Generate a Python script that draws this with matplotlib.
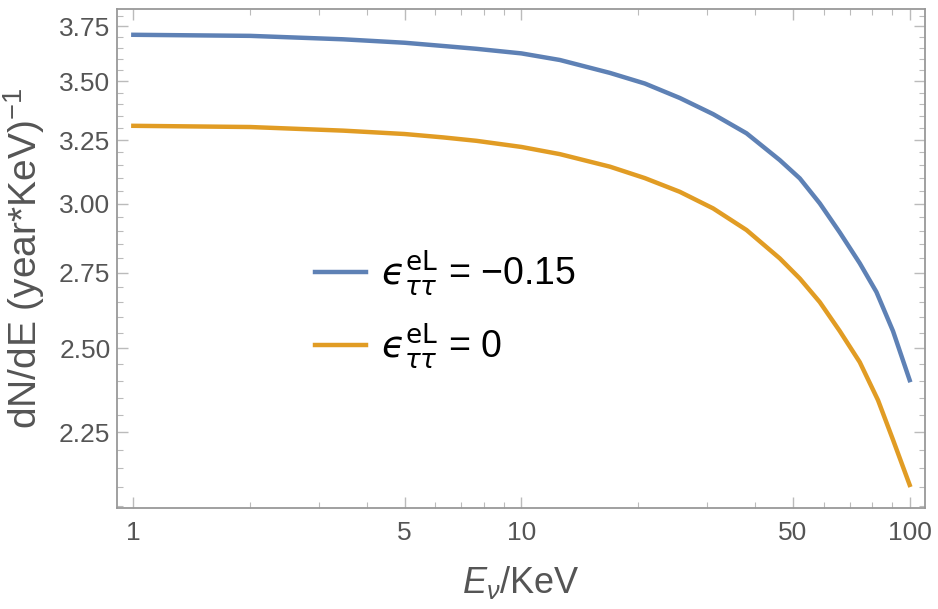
import numpy as np
import matplotlib
matplotlib.use("Agg")
import matplotlib.pyplot as plt
from matplotlib.ticker import FixedLocator, NullFormatter

plt.rcParams['font.family'] = ['Liberation Sans', 'DejaVu Sans']
plt.rcParams['mathtext.fontset'] = 'custom'
plt.rcParams['mathtext.rm'] = 'Liberation Sans'
plt.rcParams['mathtext.it'] = 'Liberation Sans:italic'
plt.rcParams['mathtext.bf'] = 'Liberation Sans:bold'

# values (E in KeV, dN/dE)
E_blue = [1, 2, 3.47, 5, 6.29, 7.66, 10, 12.56, 16.9, 20.79, 25.58, 31.17, 37.99,
          46.29, 52.12, 58.68, 66.07, 74.38, 82.11, 90.6, 100]
y_blue = [3.711, 3.706, 3.690, 3.674, 3.659, 3.646, 3.625, 3.595, 3.537, 3.490, 3.427,
          3.358, 3.278, 3.169, 3.097, 3.001, 2.893, 2.783, 2.684, 2.555, 2.402]

E_orange = [1, 2, 3.47, 5, 6.29, 7.66, 10, 12.56, 16.9, 20.79, 25.58, 31.17, 37.99,
            46.29, 52.12, 58.68, 66.07, 74.38, 82.89, 90.6, 100]
y_orange = [3.309, 3.304, 3.289, 3.275, 3.261, 3.247, 3.222, 3.193, 3.143, 3.098, 3.045,
            2.982, 2.902, 2.800, 2.730, 2.650, 2.555, 2.457, 2.342, 2.228, 2.105]

labels = ['$\u03f5_{\\tau\\tau}^{\\mathrm{eL}}$ = \u22120.15', '$\u03f5_{\\tau\\tau}^{\\mathrm{eL}}$ = 0']
colors = ['#5E81B5', '#E19C24']

xticks = [1, 5, 10, 50, 100]
yticks = [2.25, 2.5, 2.75, 3.0, 3.25, 3.5, 3.75]

fig = plt.figure(figsize=(9.38, 6.09), dpi=100)
ax = fig.add_axes([0.1251, 0.1654, 0.861, 0.8193])

ax.plot(E_blue, y_blue, color=colors[0], lw=3.2, label=labels[0])
ax.plot(E_orange, y_orange, color=colors[1], lw=3.2, label=labels[1])

ax.set_xscale('log')
ax.set_yscale('log')
ax.set_xlim(0.9095, 109.5)
ax.set_ylim(2.044, 3.832)

# ticks
ax.xaxis.set_major_locator(FixedLocator(xticks))
ax.xaxis.set_minor_locator(FixedLocator([2, 3, 4, 6, 7, 8, 9, 20, 30, 40, 60, 70, 80, 90]))
ax.set_xticklabels([str(t) for t in xticks])
ax.xaxis.set_minor_formatter(NullFormatter())
ax.yaxis.set_major_locator(FixedLocator(yticks))
ax.yaxis.set_minor_locator(FixedLocator(np.arange(2.05, 3.85, 0.05)))
ax.set_yticklabels(['%.2f' % t for t in yticks])
ax.yaxis.set_minor_formatter(NullFormatter())

gray = '#999999'
for s in ax.spines.values():
    s.set_color(gray)
    s.set_linewidth(1.3)
ax.tick_params(which='both', direction='in', top=True, right=True, color='#bbbbbb',
               labelcolor='#555555', labelsize=19)
ax.tick_params(which='major', length=8, width=1)
ax.tick_params(which='minor', length=4, width=0.8)
ax.tick_params(axis='x', which='major', pad=9)
ax.tick_params(axis='y', which='major', pad=5)

ax.set_xlabel(r'$E_{\nu}$/KeV', fontsize=26, color='#555555', labelpad=14)
ax.set_ylabel('dN/dE (year*KeV)$^{\\mathrm{-1}}$', fontsize=28, color='#555555')
ax.yaxis.set_label_coords(-0.087, 0.5)

leg = ax.legend(loc='center left', bbox_to_anchor=(0.2448, 0.397), frameon=False,
                fontsize=27, handlelength=1.35, handletextpad=0.4, labelspacing=0.6,
                borderpad=0, borderaxespad=0)
for t in leg.get_texts():
    t.set_math_fontfamily('dejavusans')

fig.savefig('out.png', dpi=100)
